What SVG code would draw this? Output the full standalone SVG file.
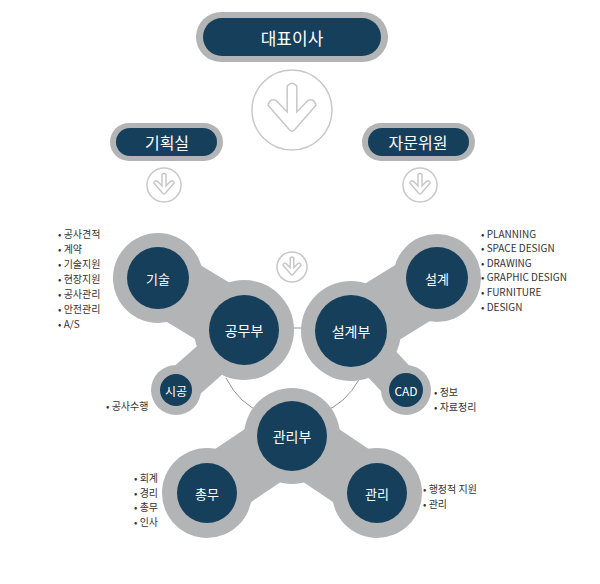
<svg xmlns="http://www.w3.org/2000/svg" width="600" height="584" viewBox="0 0 600 584">
<style>
.g{fill:#b3b4b6}.gl{stroke:#b3b4b6;stroke-linecap:round;fill:none}
.d{fill:#163f5c}
.t{fill:#fff;font-family:"Noto Sans CJK KR","Noto Sans",sans-serif;text-anchor:middle;dominant-baseline:central}
.l{fill:#333;font-family:"Noto Sans CJK KR","Liberation Sans",sans-serif;font-size:10px}
.ar{fill:#fff;stroke:#c8c8c8;vector-effect:non-scaling-stroke;stroke-width:1.5}
.c{fill:none;stroke:#777;stroke-width:0.8}
</style>
<defs>
<g id="arrow">
<circle r="1" class="ar"/>
<path class="ar" d="M-0.12,-0.6 L-0.12,0.05 L-0.38,-0.22 Q-0.55,-0.32 -0.6,-0.12 L-0.06,0.5 Q0,0.56 0.06,0.5 L0.6,-0.12 Q0.55,-0.32 0.38,-0.22 L0.12,0.05 L0.12,-0.6 Q0,-0.74 -0.12,-0.6 Z"/>
</g>
</defs>
<rect width="600" height="584" fill="#fff"/>
<g id="connectors">
<line class="c" x1="290" y1="328" x2="305" y2="328"/>
<path class="c" d="M226,378 Q240,405 262,412"/>
<path class="c" d="M360,378 Q345,405 322,412"/>
</g>
<g id="ceo"><rect x="196" y="12" width="192" height="50" rx="25" class="g"/><rect x="203" y="18" width="178" height="38" rx="19" class="d"/><text class="t" x="292" y="37" font-size="17">대표이사</text></g>
<use href="#arrow" transform="translate(292,110) scale(40)"/>
<g id="plan"><rect x="110" y="123" width="113" height="38" rx="19" class="g"/><rect x="116" y="128" width="101" height="28" rx="14" class="d"/><text class="t" x="167" y="142" font-size="16">기획실</text></g>
<g id="advisor"><rect x="362" y="123" width="113" height="38" rx="19" class="g"/><rect x="368" y="128" width="101" height="28" rx="14" class="d"/><text class="t" x="418" y="142" font-size="16">자문위원</text></g>
<use href="#arrow" transform="translate(164,185) scale(17)"/>
<use href="#arrow" transform="translate(420,185) scale(17)"/>
<use href="#arrow" transform="translate(292,267) scale(15)"/>
<g id="gongmu">
<line class="gl" x1="158" y1="278" x2="244" y2="330" stroke-width="66"/>
<line class="gl" x1="176" y1="390" x2="244" y2="330" stroke-width="38"/>
<circle cx="158" cy="278" r="45" class="g"/><circle cx="244" cy="330" r="50" class="g"/><circle cx="176" cy="390" r="25" class="g"/>
<circle cx="158" cy="278" r="31" class="d"/><circle cx="244" cy="330" r="35" class="d"/><circle cx="176" cy="390" r="16" class="d"/>
<text class="t" x="158" y="278" font-size="13">기술</text><text class="t" x="244" y="330" font-size="14">공무부</text><text class="t" x="176" y="390" font-size="12">시공</text>
</g>
<g id="seolgye">
<line class="gl" x1="437" y1="278" x2="351" y2="331" stroke-width="66"/>
<line class="gl" x1="406" y1="390" x2="351" y2="331" stroke-width="38"/>
<circle cx="437" cy="278" r="44" class="g"/><circle cx="351" cy="331" r="50" class="g"/><circle cx="406" cy="390" r="25" class="g"/>
<circle cx="437" cy="278" r="31" class="d"/><circle cx="351" cy="331" r="36" class="d"/><circle cx="406" cy="390" r="17" class="d"/>
<text class="t" x="437" y="278" font-size="13">설계</text><text class="t" x="351" y="331" font-size="14">설계부</text><text class="t" x="406" y="390" font-size="12" font-family="Liberation Sans">CAD</text>
</g>
<g id="gwanri">
<line class="gl" x1="207" y1="493" x2="292" y2="436" stroke-width="64"/>
<line class="gl" x1="377" y1="493" x2="292" y2="436" stroke-width="64"/>
<circle cx="292" cy="436" r="48" class="g"/><circle cx="207" cy="493" r="45" class="g"/><circle cx="377" cy="493" r="45" class="g"/>
<circle cx="292" cy="436" r="35" class="d"/><circle cx="207" cy="493" r="30" class="d"/><circle cx="377" cy="493" r="30" class="d"/>
<text class="t" x="292" y="436" font-size="14">관리부</text><text class="t" x="207" y="493" font-size="13">총무</text><text class="t" x="377" y="493" font-size="13">관리</text>
</g>
<g id="lists">
<text class="l" x="58" y="238">• 공사견적</text><text class="l" x="58" y="253">• 계약</text><text class="l" x="58" y="268">• 기술지원</text><text class="l" x="58" y="283">• 현장지원</text><text class="l" x="58" y="298">• 공사관리</text><text class="l" x="58" y="313">• 안전관리</text><text class="l" x="58" y="328">• A/S</text>
<text class="l" x="481" y="238">• PLANNING</text><text class="l" x="481" y="252">• SPACE DESIGN</text><text class="l" x="481" y="267">• DRAWING</text><text class="l" x="481" y="281">• GRAPHIC DESIGN</text><text class="l" x="481" y="296">• FURNITURE</text><text class="l" x="481" y="311">• DESIGN</text>
<text class="l" x="106" y="410">• 공사수행</text>
<text class="l" x="434" y="396">• 정보</text><text class="l" x="434" y="411">• 자료정리</text>
<text class="l" x="134" y="482">• 회계</text><text class="l" x="134" y="497">• 경리</text><text class="l" x="134" y="511">• 총무</text><text class="l" x="134" y="526">• 인사</text>
<text class="l" x="423" y="493">• 행정적 지원</text><text class="l" x="423" y="508">• 관리</text>
</g>
</svg>
